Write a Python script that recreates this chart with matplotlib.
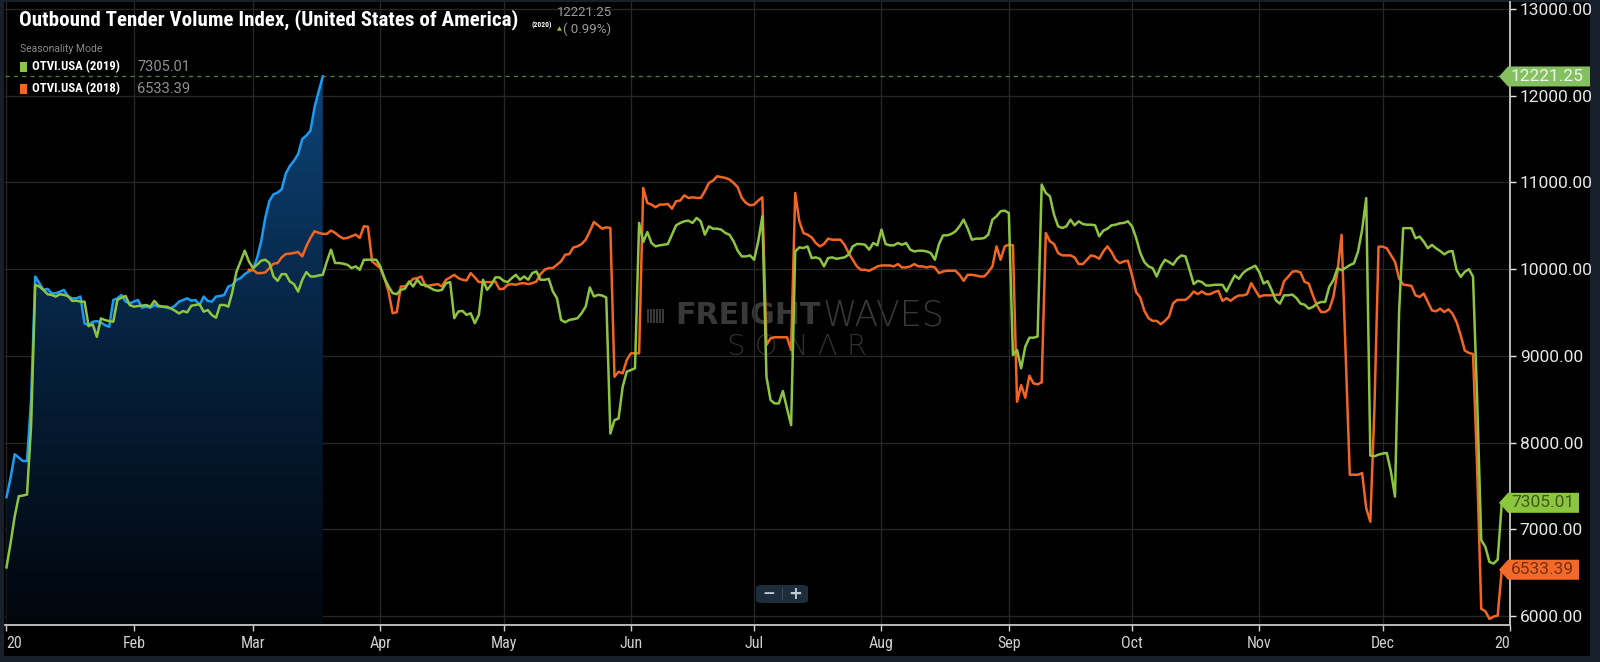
import datetime as dt
import numpy as np
import matplotlib
matplotlib.use("Agg")
import matplotlib.pyplot as plt
import matplotlib.dates as mdates
import matplotlib.transforms as mtransforms
from matplotlib.colors import LinearSegmentedColormap
from matplotlib.patches import PathPatch, Polygon, Rectangle, FancyBboxPatch

# Outbound Tender Volume Index (OTVI.USA), seasonality mode:
# one value per day, every year drawn on the 2020 calendar

otvi_2020 = [
    7370, 7594, 7865, 7826, 7787, 7787, 8500, 9915, 9838, 9760,
    9772, 9721, 9721, 9740, 9760, 9683, 9663, 9663, 9683, 9373,
    9354, 9393, 9400, 9385, 9354, 9335, 9644, 9663, 9702, 9625,
    9605, 9625, 9644, 9555, 9567, 9555, 9586, 9567, 9567, 9555,
    9547, 9578, 9625, 9644, 9663, 9636, 9644, 9586, 9683, 9633,
    9625, 9683, 9690, 9702, 9799, 9818, 9876, 9896, 9942, 9973,
    9992, 10128, 10321, 10592, 10785, 10863, 10882, 10921, 11102, 11191,
    11250, 11327, 11501, 11540, 11598, 11868, 12050, 12221.25,
]

otvi_2019 = [
    6560, 6840, 7149, 7381, 7389, 7400, 8200, 9818, 9799, 9760,
    9710, 9702, 9683, 9710, 9702, 9690, 9633, 9636, 9625, 9625,
    9342, 9362, 9219, 9431, 9412, 9400, 9393, 9644, 9671, 9690,
    9586, 9567, 9574, 9578, 9586, 9567, 9633, 9578, 9567, 9567,
    9547, 9520, 9489, 9516, 9501, 9578, 9586, 9594, 9509, 9528,
    9470, 9439, 9586, 9586, 9567, 9741, 9973, 10089, 10213, 10089,
    10012, 10050, 10097, 10108, 10070, 9915, 9865, 9942, 9942, 9857,
    9826, 9741, 9876, 9965, 9915, 9915, 9927, 9934, 10089, 10224,
    10070, 10070, 10062, 10050, 10012, 10031, 9992, 10108, 10108, 10108,
    10108, 10031, 9896, 9800, 9723, 9711, 9761, 9773, 9857, 9800,
    9877, 9819, 9819, 9788, 9761, 9750, 9761, 9838, 9850, 9434,
    9511, 9518, 9472, 9491, 9376, 9472, 9877, 9761, 9819, 9904,
    9904, 9865, 9850, 9896, 9934, 9877, 9915, 9877, 9954, 9973,
    9877, 9877, 9888, 9742, 9665, 9414, 9387, 9414, 9422, 9434,
    9491, 9568, 9788, 9684, 9703, 9696, 9672, 8104, 8258, 8278,
    8644, 8817, 8836, 8856, 10532, 10312, 10428, 10301, 10262, 10274,
    10281, 10289, 10397, 10505, 10532, 10551, 10559, 10532, 10590, 10551,
    10397, 10493, 10466, 10466, 10455, 10416, 10397, 10320, 10212, 10146,
    10146, 10158, 10108, 10320, 10609, 8759, 8490, 8451, 8451, 8594,
    8393, 8201, 10204, 10250, 10243, 10262, 10127, 10135, 10119, 10031,
    10127, 10135, 10119, 10127, 10135, 10166, 10262, 10289, 10289, 10281,
    10224, 10301, 10274, 10455, 10289, 10274, 10274, 10301, 10281, 10301,
    10224, 10204, 10212, 10212, 10204, 10185, 10108, 10289, 10389, 10389,
    10405, 10435, 10493, 10570, 10466, 10339, 10351, 10351, 10358, 10397,
    10570, 10609, 10667, 10674, 10647, 9009, 9068, 8856, 9106, 9209,
    9209, 9222, 10975, 10878, 10840, 10628, 10493, 10474, 10493, 10570,
    10505, 10551, 10520, 10512, 10512, 10505, 10378, 10443, 10466, 10505,
    10512, 10528, 10532, 10551, 10493, 10358, 10185, 10081, 10031, 10012,
    9915, 10031, 10108, 10081, 10050, 10119, 10158, 10146, 9992, 9827,
    9865, 9850, 9811, 9811, 9819, 9819, 9819, 9742, 9838, 9927,
    9888, 9954, 9992, 10015, 10039, 9961, 9834, 9861, 9756, 9640,
    9602, 9698, 9698, 9706, 9667, 9602, 9590, 9544, 9563, 9602,
    9621, 9621, 9795, 9872, 10008, 9988, 10015, 10046, 10066, 10201,
    10453, 10820, 7850, 7842, 7861, 7873, 7880, 7668, 7377, 9500,
    10472, 10472, 10472, 10356, 10375, 10317, 10240, 10279, 10240, 10209,
    10170, 10201, 10209, 9988, 9911, 9969, 10000, 9911, 8500, 6875,
    6797, 6623, 6604, 6650, 7305.01,
]

# 2018 series is only visible from the start of March on
start_2018 = 59
otvi_2018 = [
    9992, 9992, 9954, 9954, 9961, 10012, 10062, 10070, 10135, 10174,
    10178, 10186, 10197, 10147, 10263, 10360, 10437, 10418, 10406, 10406,
    10445, 10418, 10379, 10352, 10360, 10379, 10398, 10360, 10495, 10487,
    10089, 10050, 10012, 9896, 9742, 9491, 9503, 9800, 9800, 9838,
    9888, 9896, 9915, 9800, 9811, 9819, 9827, 9800, 9877, 9904,
    9934, 9896, 9877, 9869, 9954, 9904, 9850, 9850, 9850, 9850,
    9857, 9769, 9773, 9819, 9827, 9819, 9834, 9838, 9827, 9838,
    9857, 9942, 9992, 10012, 10012, 10050, 10089, 10166, 10173, 10250,
    10262, 10289, 10339, 10435, 10543, 10505, 10466, 10482, 10474, 8759,
    8817, 8798, 8952, 9029, 9029, 9029, 10936, 10763, 10744, 10713,
    10744, 10744, 10751, 10697, 10782, 10790, 10851, 10820, 10828, 10821,
    10821, 10898, 10994, 11021, 11071, 11060, 11052, 11033, 10994, 10944,
    10821, 10763, 10736, 10744, 10790, 10828, 9125, 9202, 9214, 9214,
    9214, 9214, 9068, 10878, 10551, 10416, 10397, 10366, 10301, 10262,
    10289, 10351, 10339, 10339, 10339, 10281, 10185, 10108, 10031, 9992,
    9992, 9981, 10004, 10031, 10042, 10042, 10042, 10031, 10058, 10019,
    10019, 10031, 10058, 10031, 10031, 10019, 10031, 10019, 9954, 9973,
    9981, 9981, 9981, 9934, 9865, 9934, 9934, 9927, 9915, 9915,
    9965, 10031, 10262, 10108, 10262, 10281, 10274, 8470, 8663, 8517,
    8771, 8682, 8671, 8694, 10416, 10320, 10289, 10185, 10158, 10158,
    10158, 10135, 10058, 10058, 10108, 10158, 10146, 10119, 10204, 10262,
    10197, 10108, 10069, 10089, 10096, 9927, 9734, 9672, 9518, 9434,
    9403, 9403, 9364, 9403, 9453, 9607, 9645, 9645, 9645, 9684,
    9742, 9711, 9742, 9711, 9711, 9734, 9750, 9634, 9665, 9634,
    9672, 9696, 9696, 9711, 9838, 9760, 9680, 9698, 9698, 9698,
    9703, 9706, 9861, 9911, 9969, 9977, 9961, 9853, 9834, 9698,
    9582, 9505, 9505, 9536, 9679, 9969, 10395, 9000, 7629, 7629,
    7629, 7648, 7242, 7087, 8400, 10259, 10259, 10240, 10162, 10085,
    9892, 9822, 9814, 9807, 9698, 9679, 9718, 9621, 9524, 9513,
    9544, 9505, 9536, 9486, 9389, 9234, 9060, 9033, 9021, 7700,
    6082, 6055, 5966, 5993, 6004, 6533.39,
]

month_labels = ["20", "Feb", "Mar", "Apr", "May", "Jun", "Jul",
                "Aug", "Sep", "Oct", "Nov", "Dec", "20"]
y_ticks = [6000, 7000, 8000, 9000, 10000, 11000, 12000, 13000]
change_2020 = "( 0.99%)"

C_BLUE = "#1b9cf2"
C_GREEN = "#8dc540"
C_ORANGE = "#f26522"

NARROW = ["Roboto Condensed", "Liberation Sans Narrow", "DejaVu Sans Condensed", "Roboto"]
NUM = ["Roboto", "DejaVu Sans"]

W, H = 1600, 662


def fx(px):
    return px / W


def fy(py):
    return 1 - py / H


fig = plt.figure(figsize=(16, 6.62), dpi=100, facecolor="#18212b")
fig.patches.append(Rectangle((fx(4), fy(656)), fx(1590) - fx(4), fy(2) - fy(656),
                             transform=fig.transFigure, facecolor="black",
                             edgecolor="none", zorder=-5))

ax = fig.add_axes([fx(5), fy(625), fx(1510) - fx(5), fy(2) - fy(625)])
ax.set_facecolor("black")

jan1 = mdates.date2num(dt.datetime(2020, 1, 1))
x_2020 = jan1 + np.arange(len(otvi_2020))
x_2019 = jan1 + np.arange(len(otvi_2019))
x_2018 = jan1 + start_2018 + np.arange(len(otvi_2018))

ymin, ymax = 5896, 13080
xmin, xmax = jan1 - 0.36, mdates.date2num(dt.datetime(2021, 1, 1))

# gradient area under the 2020 line
fill = ax.fill_between(x_2020, otvi_2020, ymin, facecolor="none", edgecolor="none")
clip = PathPatch(fill.get_paths()[0], transform=ax.transData,
                 facecolor="none", edgecolor="none")
ax.add_patch(clip)
fade = LinearSegmentedColormap.from_list("fade", ["#01060c", "#06203c", "#0d4478"])
grad = np.linspace(0, 1, 256).reshape(-1, 1)
im = ax.imshow(grad, cmap=fade, origin="lower", aspect="auto", zorder=1,
               extent=[x_2020[0], x_2020[-1], ymin, max(otvi_2020)])
im.set_clip_path(clip)

ax.plot(x_2020, otvi_2020, color=C_BLUE, lw=1.8, zorder=3)
ax.plot(x_2018, otvi_2018, color=C_ORANGE, lw=1.8, zorder=4)
ax.plot(x_2019, otvi_2019, color=C_GREEN, lw=1.8, zorder=5)

ax.axhline(otvi_2020[-1], color="#4f7a39", lw=1, ls=(0, (3, 3)), zorder=2)

ax.set_xlim(xmin, xmax)
ax.set_ylim(ymin, ymax)

# axes styling
tick_x = [mdates.date2num(dt.datetime(2020, m, 1)) for m in range(1, 13)]
tick_x.append(mdates.date2num(dt.datetime(2021, 1, 1)))
ax.set_xticks(tick_x, month_labels)
ax.yaxis.tick_right()
ax.set_yticks(y_ticks, [f"{v:.2f}" for v in y_ticks])
ax.grid(True, color="#262626", lw=1)
ax.set_axisbelow(True)
for side in ["left", "top"]:
    ax.spines[side].set_visible(False)
for side in ["right", "bottom"]:
    ax.spines[side].set_color("#c8c8c8")
    ax.spines[side].set_linewidth(1.3)
ax.tick_params(axis="x", colors="#cfcfcf", length=4, width=1, labelsize=11.5, pad=4)
ax.tick_params(axis="y", colors="#e6e6e6", length=4, width=1, labelsize=12.5, pad=3)
for lab in ax.get_xticklabels():
    lab.set_fontfamily(NARROW)
for lab in ax.get_yticklabels():
    lab.set_fontfamily(NUM)
xlabs = ax.get_xticklabels()
xlabs[0].set_horizontalalignment("left")
xlabs[-1].set_horizontalalignment("right")

# value tags at the right edge
blend = mtransforms.blended_transform_factory(fig.transFigure, ax.transData)
half_h = 10 * (ymax - ymin) / (625 - 2)


def value_tag(value, right_px, face, text_color):
    pts = [(fx(1499), value), (fx(1508), value + half_h), (fx(right_px), value + half_h),
           (fx(right_px), value - half_h), (fx(1508), value - half_h)]
    ax.add_patch(Polygon(pts, closed=True, transform=blend, facecolor=face,
                         edgecolor="none", clip_on=False, zorder=6))
    ax.text(fx(1511), value, f"{value:.2f}", transform=blend, ha="left", va="center",
            fontsize=12.5, family=NUM, color=text_color, clip_on=False, zorder=7)


value_tag(otvi_2020[-1], 1590, "#84c060", "#eef6e8")
value_tag(otvi_2019[-1], 1579, "#8cc63f", "#3c5a1a")
value_tag(otvi_2018[-1], 1579, "#f26a2a", "#7a2e10")

renderer = fig.canvas.get_renderer()


def fit_width(txt, target_px):
    w = txt.get_window_extent(renderer).width
    txt.set_fontsize(txt.get_fontsize() * target_px / w)


# watermark
wm_color = "#393939"
t = ax.text(fx(821), fy(316), "FREIGHT", transform=fig.transFigure, ha="right", va="center",
            fontsize=18, weight="bold", family="DejaVu Sans", color=wm_color, zorder=0.5)
fit_width(t, 145)
t = ax.text(fx(823), fy(316), "WAVES", transform=fig.transFigure, ha="left", va="center",
            fontsize=18, weight="light", family="DejaVu Sans", color=wm_color, zorder=0.5)
fit_width(t, 122)
t = ax.text(fx(797), fy(347), "S O N \u039b R", transform=fig.transFigure, ha="center",
            va="center", fontsize=18, weight="light", family="DejaVu Sans",
            color="#303030", zorder=0.5)
fit_width(t, 140)
for i in range(6):
    ax.add_patch(Rectangle((fx(647 + i * 3), fy(323)), fx(1.6), fy(309) - fy(323),
                           transform=fig.transFigure, facecolor=wm_color,
                           edgecolor="none", zorder=0.5))

# zoom buttons
fig.patches.append(FancyBboxPatch((fx(756), fy(603)), fx(52), fy(585) - fy(603),
                                  boxstyle="round,pad=0,rounding_size=0.004",
                                  transform=fig.transFigure, facecolor="#1e2d3b",
                                  edgecolor="none", zorder=10))
fig.text(fx(769), fy(594), "\u2212", ha="center", va="center", fontsize=11,
         weight="bold", color="#c3ccd4", zorder=11)
fig.text(fx(795), fy(594), "+", ha="center", va="center", fontsize=12,
         weight="bold", color="#c3ccd4", zorder=11)
fig.patches.append(Rectangle((fx(782), fy(600)), fx(0.8), fy(588) - fy(600),
                             transform=fig.transFigure, facecolor="#3a4a58",
                             edgecolor="none", zorder=11))

# header
t = fig.text(fx(19), fy(20), "Outbound Tender Volume Index, (United States of America)",
             family=NARROW, weight="bold", fontsize=15.5, color="white", va="center")
fit_width(t, 500)
t = fig.text(fx(532), fy(25), "(2020)", family=NARROW, weight="bold", fontsize=6.5,
             color="white", va="center")
fit_width(t, 20)
fig.text(fx(557), fy(13), f"{otvi_2020[-1]:.2f}", family=NUM, fontsize=9.5,
         color="#9a9a9a", va="center")
fig.text(fx(557), fy(29), "\u25b2", family="DejaVu Sans", fontsize=4.5,
         color=C_GREEN, va="center")
fig.text(fx(563), fy(29), change_2020, family=NUM, fontsize=9.5,
         color="#9a9a9a", va="center")
fig.text(fx(20), fy(49), "Seasonality Mode", family=NUM, fontsize=7.5,
         color="#8a8a8a", va="center")

for row_y, color, name, series in [(67, C_GREEN, "OTVI.USA (2019)", otvi_2019),
                                   (89, C_ORANGE, "OTVI.USA (2018)", otvi_2018)]:
    fig.patches.append(Rectangle((fx(20), fy(row_y + 5)), fx(7), fy(row_y - 5) - fy(row_y + 5),
                                 transform=fig.transFigure, facecolor=color,
                                 edgecolor="none", zorder=2))
    t = fig.text(fx(32), fy(row_y), name, family=NARROW, weight="bold", fontsize=10.5,
                 color="white", va="center")
    fit_width(t, 88)
    fig.text(fx(137), fy(row_y), f"{series[-1]:.2f}", family=NUM, fontsize=10.5,
             color="#8f8f8f", va="center")

fig.savefig("out.png", dpi=100, facecolor=fig.get_facecolor())
